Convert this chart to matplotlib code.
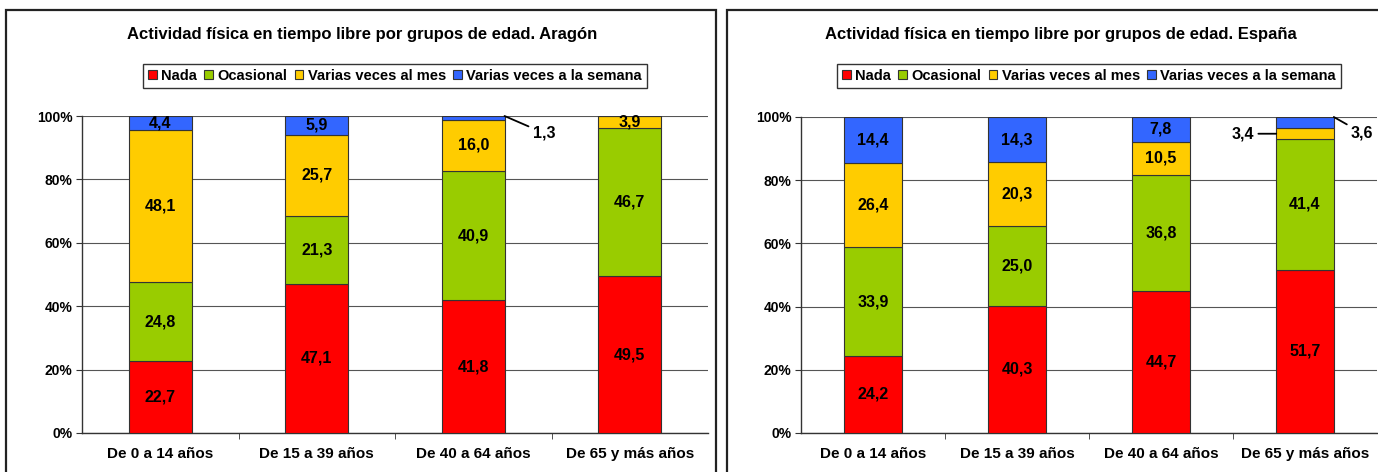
import numpy as np
import matplotlib.pyplot as plt
from matplotlib.patches import Rectangle, Patch

plt.rcParams["font.family"] = ["Liberation Sans Narrow", "Liberation Sans", "DejaVu Sans"]
plt.rcParams["font.weight"] = "bold"

groups = ["De 0 a 14 años", "De 15 a 39 años", "De 40 a 64 años", "De 65 y más años"]
series_names = ["Nada", "Ocasional", "Varias veces al mes", "Varias veces a la semana"]
series_colors = ["#FF0000", "#99CC00", "#FFCC00", "#3366FF"]

# percentages by age group
aragon_nada = [22.7, 47.1, 41.8, 49.5]
aragon_ocasional = [24.8, 21.3, 40.9, 46.7]
aragon_mes = [48.1, 25.7, 16.0, 3.9]
aragon_semana = [4.4, 5.9, 1.3, 0.0]

espana_nada = [24.2, 40.3, 44.7, 51.7]
espana_ocasional = [33.9, 25.0, 36.8, 41.4]
espana_mes = [26.4, 20.3, 10.5, 3.4]
espana_semana = [14.4, 14.3, 7.8, 3.6]

W, H = 1378, 472


def px_box(x0, x1, y_top, y_bottom):
    """Figure-fraction rectangle from pixel edges"""
    return [x0 / W, (H - y_bottom) / H, (x1 - x0) / W, (y_bottom - y_top) / H]


def stacked_panel(fig, box, title, title_x, series, callouts):
    ax = fig.add_axes(px_box(*box))
    data = np.array(series, dtype=float)
    # 100% stacked: each group scaled to its own total
    shares = data / data.sum(axis=0) * 100
    x = np.arange(len(groups))
    bottom = np.zeros(len(groups))
    for k, (name, color) in enumerate(zip(series_names, series_colors)):
        ax.bar(x, shares[k], 0.40, bottom=bottom, color=color,
               edgecolor="#333333", linewidth=0.8, zorder=3)
        for i in range(len(groups)):
            v = data[k, i]
            if v <= 0:
                continue
            y_mid = bottom[i] + shares[k, i] / 2
            label = f"{v:.1f}".replace(".", ",")
            callout = callouts.get((k, i))
            if callout is None:
                ax.text(i, y_mid, label, ha="center", va="center",
                        fontsize=11.5, fontweight="bold", zorder=4)
                continue
            side, dx, dy = callout
            if side == "right":
                anchor = (i + 0.2, bottom[i] + shares[k, i])
                ha = "left"
            else:
                anchor = (i - 0.2, y_mid)
                ha = "right"
            ax.annotate(label, xy=anchor, xytext=(dx, dy), textcoords="offset pixels",
                        ha=ha, va="center", fontsize=11.5, fontweight="bold",
                        arrowprops=dict(arrowstyle="-", color="black", lw=1.3,
                                        shrinkA=1, shrinkB=0))
        bottom += shares[k]

    ax.set_xlim(-0.5, len(groups) - 0.5)
    ax.set_ylim(0, 100)
    ax.set_yticks(range(0, 101, 20))
    ax.set_yticklabels([f"{t}%" for t in range(0, 101, 20)], fontsize=10, fontweight="bold")
    ax.yaxis.grid(True, color="#555555", linewidth=0.8, zorder=0)
    ax.set_axisbelow(True)
    ax.set_xticks(x)
    ax.set_xticklabels(groups, fontsize=11, fontweight="bold")
    ax.tick_params(axis="x", length=0, pad=10)
    ax.set_xticks(np.arange(0.5, len(groups) - 0.5), minor=True)
    ax.tick_params(axis="x", which="minor", length=4, direction="out", color="#333333")
    ax.tick_params(axis="y", length=4, direction="out", pad=3, color="#333333")
    for s in ["top", "right"]:
        ax.spines[s].set_visible(False)
    for s in ["left", "bottom"]:
        ax.spines[s].set_color("#333333")
        ax.spines[s].set_linewidth(1.0)

    fig.text(title_x / W, 1 - 35 / H, title, ha="center", va="center",
             fontsize=12, fontweight="bold")
    handles = [Patch(facecolor=c, edgecolor="#333333", linewidth=0.8) for c in series_colors]
    leg_x = (box[0] + box[1]) / 2 / W
    fig.legend(handles, series_names, loc="center", bbox_to_anchor=(leg_x, 1 - 76 / H),
               ncol=4, frameon=True, fancybox=False, edgecolor="black",
               handlelength=0.6, handleheight=0.6, handletextpad=0.3,
               columnspacing=0.5, borderpad=0.35, prop={"weight": "bold", "size": 10.5})
    return ax


fig = plt.figure(figsize=(W / 100, H / 100), dpi=100)
fig.patches.append(Rectangle((6 / W, -0.1), 710 / W, 1.1 - 10 / H,
                             transform=fig.transFigure, fill=False,
                             edgecolor="#222222", linewidth=1.6))
fig.patches.append(Rectangle((727 / W, -0.1), 668 / W, 1.1 - 10 / H,
                             transform=fig.transFigure, fill=False,
                             edgecolor="#222222", linewidth=1.6))

stacked_panel(fig, (82, 708, 116, 433),
              "Actividad física en tiempo libre por grupos de edad. Aragón", 362,
              [aragon_nada, aragon_ocasional, aragon_mes, aragon_semana],
              {(3, 2): ("right", 28, -17)})
stacked_panel(fig, (801, 1377, 117, 433),
              "Actividad física en tiempo libre por grupos de edad. España", 1061,
              [espana_nada, espana_ocasional, espana_mes, espana_semana],
              {(2, 3): ("left", -22, 0), (3, 3): ("right", 17, -16)})

fig.savefig("out.png", dpi=100)
